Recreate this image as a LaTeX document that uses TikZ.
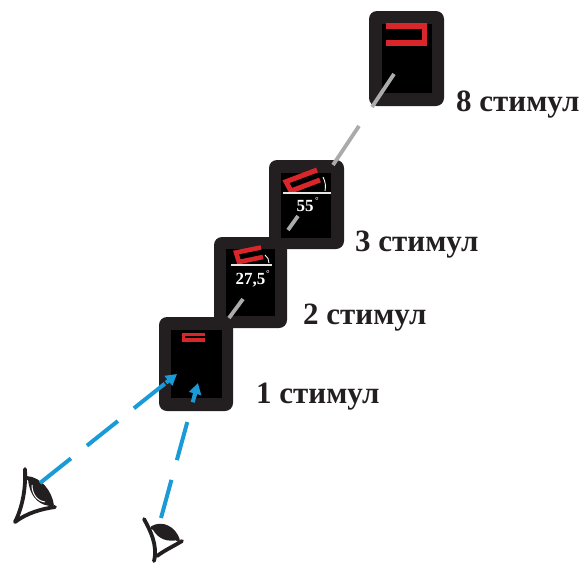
\documentclass[tikz,border=0pt]{standalone}
\usepackage{fontspec}
\setmainfont{Liberation Serif}
\usetikzlibrary{arrows.meta,calc}
\definecolor{frameC}{HTML}{231F20}
\definecolor{redC}{HTML}{D9262B}
\definecolor{blueC}{HTML}{1A9AD6}
\definecolor{greyC}{HTML}{ABABAB}
\tikzset{
  frameBox/.style={fill=frameC,rounded corners=8pt,draw=none},
  screenBox/.style={fill=black,draw=none},
  redMark/.style={draw=redC,line join=miter,line cap=butt},
  sightLine/.style={draw=greyC,line width=3.8pt},
  gazeLine/.style={draw=blueC,line width=4pt,dash pattern=on 39.5pt off 20.5pt,shorten >=8pt},
  gazeTip/.style={draw=blueC,line width=4pt,-{Triangle[length=11pt,width=12pt]}},
  stimLabel/.style={font=\bfseries\fontsize{31}{31}\selectfont,text=frameC,anchor=base west,inner sep=0pt},
  angleLabel/.style={font=\bfseries\fontsize{17}{17}\selectfont,text=white,inner sep=0pt},
  degLabel/.style={font=\bfseries\fontsize{9}{9}\selectfont,text=white,inner sep=0pt,anchor=base},
  eyeStroke/.style={draw=frameC,line width=3.8pt,line cap=round,line join=round},
  whiteRule/.style={draw=white!90!black,line width=1.2pt}
}
\begin{document}
\begin{tikzpicture}[x=1pt,y=-1pt]
\useasboundingbox (0,0) rectangle (583,562);
% frames
\fill[frameBox] (369,11) rectangle (444,106);
\fill[frameBox] (269,160) rectangle (344,249);
\fill[frameBox] (214,237) rectangle (287,328);
\fill[frameBox] (159,317) rectangle (233,411);
% screens
\fill[screenBox] (382,24) rectangle (432,93);
\fill[screenBox] (281,173) rectangle (331,238);
\fill[screenBox] (226,249) rectangle (275,316);
\fill[screenBox] (171,330) rectangle (222,398);
% red marks
\draw[redMark,line width=5.5pt] (386,25.8) -- (424.5,25.8) -- (424.5,43) -- (386,43);
\draw[redMark,line width=5pt] (317,170) -- (286,181.7) -- (291,191) -- (320,180);
\draw[redMark,line width=4.6pt] (261,247.5) -- (236,252.5) -- (239,262) -- (263,257);
\draw[redMark,line width=3.2pt] (205,334.3) -- (183.6,334.3) -- (183.6,340) -- (205,340);
% angle rules
\draw[whiteRule] (283,193) -- (331,193);
\draw[whiteRule] (231,265) -- (272,265);
\draw[white,line width=.9pt] (323,177) to[bend left=18] (325,191);
\draw[white,line width=.9pt] (265,255) to[bend left=25] (269,263);
\node[angleLabel] (a55) at (305,206) {55};
\node[angleLabel] (a275) at (250.5,280) {27,5};
\node[degLabel] (d55) at (317,203) {°};
\node[degLabel] (d275) at (268,276) {°};
% grey sight line
\coordinate (g1a) at (394,74); \coordinate (g1b) at (372,107);
\coordinate (g2a) at (359,126); \coordinate (g2b) at (333,165);
\coordinate (g3a) at (298,216); \coordinate (g3b) at (288,230);
\coordinate (g4a) at (243,299); \coordinate (g4b) at (229,318);
\draw[sightLine] (g1a) -- (g1b);
\draw[sightLine] (g2a) -- (g2b);
\draw[sightLine] (g3a) -- (g3b);
\draw[sightLine] (g4a) -- (g4b);
% labels
\node[stimLabel] (s8) at (456,111.5) {8 стимул};
\node[stimLabel] (s3) at (355,251.5) {3 стимул};
\node[stimLabel] (s2) at (303,324.5) {2 стимул};
\node[stimLabel] (s1) at (256,403.5) {1 стимул};
% eyes
\coordinate (e1) at (40,483); \coordinate (t1) at (177,374);
\coordinate (e2) at (161,518); \coordinate (t2) at (198,383);
\fill[frameC] (28,479) .. controls (42,480) and (50,493) .. (52,506) .. controls (42,506) and (30,500) .. (28,479) -- cycle;
\draw[white,line width=1pt] (32,485) .. controls (32,494) and (37,501) .. (45,502);
\draw[eyeStroke] (25,469) .. controls (26,490) and (22,508) .. (15,522) .. controls (27,513) and (41,509) .. (55,507);
\draw[eyeStroke] (27,478) .. controls (40,479) and (50,492) .. (52,505);
\fill[frameC] (152,528) .. controls (160,521) and (174,528) .. (178,540) .. controls (168,542) and (158,540) .. (152,528) -- cycle;
\draw[eyeStroke] (144,519) .. controls (150,530) and (158,545) .. (154,561);
\draw[eyeStroke] (157,556) .. controls (165,550) and (174,546) .. (182,541);
\draw[eyeStroke] (152,528) .. controls (162,522) and (174,528) .. (178,540);
% gaze lines
\draw[gazeLine] (e1) -- (t1);
\draw[gazeLine] (e2) -- (t2);
\draw[gazeTip] ($(t1)!14pt!(e1)$) -- (t1);
\draw[gazeTip] ($(t2)!14pt!(e2)$) -- (t2);
\end{tikzpicture}
\end{document}
